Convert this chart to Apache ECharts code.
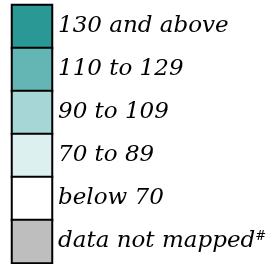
<!DOCTYPE html>
<html><head><meta charset="utf-8">
<script src="https://cdn.jsdelivr.net/npm/echarts@6/dist/echarts.min.js"></script>
<style>html,body{margin:0;padding:0;background:#fff}#c{width:271px;height:264px}</style>
</head><body><div id="c"></div>
<script>
const categories = ['130 and above', '110 to 129', '90 to 109', '70 to 89', 'below 70', 'data not mapped#'];
const colors = ['#2a9996', '#64b6b5', '#a7d6d6', '#ddf0f0', '#ffffff', '#bebebe'];
const values = [5, 4, 3, 2, 1, 0];

const chart = echarts.init(document.getElementById('c'), null, {renderer: 'canvas'});
chart.setOption({
  animation: false,
  grid: {left: 12, top: 5, width: 40, height: 258},
  xAxis: {type: 'category', data: [''], show: false},
  yAxis: {
    type: 'category', data: categories, inverse: true, position: 'right',
    axisLine: {show: false}, axisTick: {show: false}, splitLine: {show: false},
    axisLabel: {
      margin: 6, align: 'left', color: '#000', fontSize: 23, fontStyle: 'italic',
      fontFamily: 'DejaVu Serif',
      formatter: v => v.endsWith('#') ? v.slice(0, -1) + '{sup|#}' : v,
      rich: {sup: {fontSize: 13, fontStyle: 'italic', fontFamily: 'DejaVu Serif', color: '#000', verticalAlign: 'top', padding: [0,0,10,0]}}
    }
  },
  series: [{
    type: 'heatmap',
    data: categories.map((c, i) => ({value: [0, i, values[i]], itemStyle: {color: colors[i]}})),
    itemStyle: {borderColor: '#000', borderWidth: 2},
    emphasis: {disabled: true}
  }]
});
</script></body></html>
